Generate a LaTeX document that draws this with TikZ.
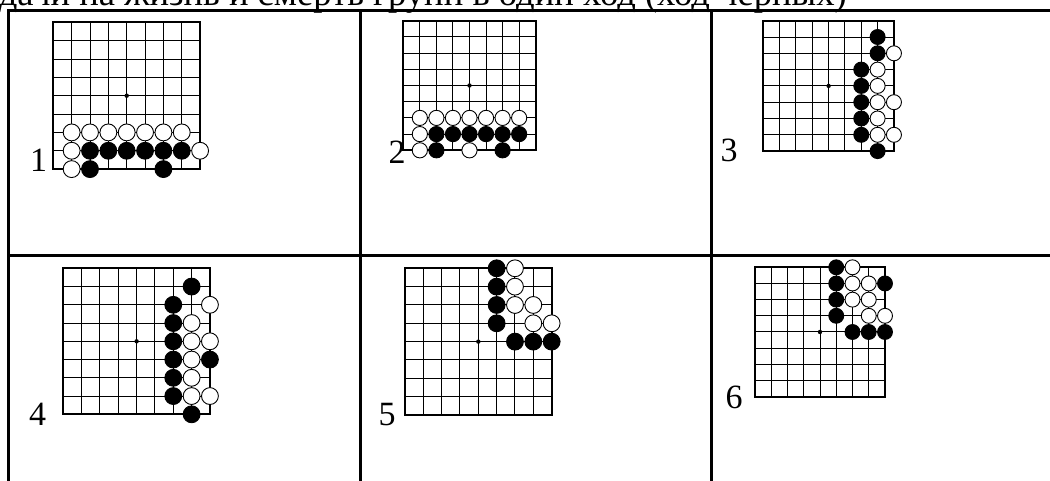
\documentclass[tikz,border=0pt]{standalone}
\usepackage{fontspec}
\setmainfont{Liberation Serif}
\tikzset{
  tableline/.style={line width=3pt},
  gridline/.style={line width=1pt},
  gridborder/.style={line width=2pt},
  bstone/.style={fill=black,draw=black,line width=0.9pt},
  wstone/.style={fill=white,draw=black,line width=0.9pt},
  numlabel/.style={inner sep=0pt,anchor=base,font=\fontsize{34}{40}\selectfont},
}
\newcommand\goboard[4]{% x0 y0 cellx celly
  \begin{scope}[shift={(#1,#2)},x=#3pt,y=-#4pt]
    \foreach \i in {1,...,7}{
      \draw[gridline] (\i,0) -- (\i,8);
      \draw[gridline] (0,\i) -- (8,\i);
    }
    \draw[gridborder] (0,0) rectangle (8,8);
    \fill (4,4) circle[radius=2.2pt];
  \end{scope}}
\newcommand\stonesB[5]{% x0 y0 cellx celly list
  \begin{scope}[shift={(#1,#2)},x=#3pt,y=-#4pt]
    \foreach \c/\r in {#5} \draw[bstone] (\c,\r) circle[radius=0.46*#3pt];
  \end{scope}}
\newcommand\stonesW[5]{%
  \begin{scope}[shift={(#1,#2)},x=#3pt,y=-#4pt]
    \foreach \c/\r in {#5} \draw[wstone] (\c,\r) circle[radius=0.46*#3pt];
  \end{scope}}
\begin{document}
\begin{tikzpicture}[x=1pt,y=-1pt]
\useasboundingbox (0,0) rectangle (1050,480);
\clip (0,0) rectangle (1050,480);
% title
\node[inner sep=0pt,anchor=base east,font=\fontsize{36.6}{42}\selectfont] (title) at (847,5) {Задачи на жизнь и смерть групп в один ход (ход черных)};
% table
\draw[tableline] (8,10) rectangle (1070,500);
\draw[tableline] (360,10) -- (360,500);
\draw[tableline] (711,10) -- (711,500);
\draw[tableline] (8,255) -- (1070,255);
% board 1
\goboard{53.3}{22.3}{18.35}{18.35}
\stonesW{53.3}{22.3}{18.35}{18.35}{1/6,2/6,3/6,4/6,5/6,6/6,7/6,1/7,8/7,1/8}
\stonesB{53.3}{22.3}{18.35}{18.35}{2/7,3/7,4/7,5/7,6/7,7/7,2/8,6/8}
\node[numlabel] (n1) at (38.5,171.7) {1};
% board 2
\goboard{403.3}{20.7}{16.55}{16.2}
\stonesW{403.3}{20.7}{16.55}{16.2}{1/6,2/6,3/6,4/6,5/6,6/6,7/6,1/7,1/8,4/8}
\stonesB{403.3}{20.7}{16.55}{16.2}{2/7,3/7,4/7,5/7,6/7,7/7,2/8,6/8}
\node[numlabel] (n2) at (397,163) {2};
% board 3
\goboard{763.3}{20.7}{16.33}{16.3}
\stonesB{763.3}{20.7}{16.33}{16.3}{7/1,7/2,6/3,6/4,6/5,6/6,6/7,7/8}
\stonesW{763.3}{20.7}{16.33}{16.3}{8/2,7/3,7/4,7/5,8/5,7/6,7/7,8/7}
\node[numlabel] (n3) at (729,161.7) {3};
% board 4
\goboard{63.3}{268.3}{18.33}{18.25}
\stonesB{63.3}{268.3}{18.33}{18.25}{7/1,6/2,6/3,6/4,6/5,8/5,6/6,6/7,7/8}
\stonesW{63.3}{268.3}{18.33}{18.25}{8/2,7/3,7/4,8/4,7/5,7/6,7/7,8/7}
\node[numlabel] (n4) at (37.5,425) {4};
% board 5
\goboard{405}{268.3}{18.33}{18.33}
\stonesB{405}{268.3}{18.33}{18.33}{5/0,5/1,5/2,5/3,6/4,7/4,8/4}
\stonesW{405}{268.3}{18.33}{18.33}{6/0,6/1,6/2,7/2,7/3,8/3}
\node[numlabel] (n5) at (387,425) {5};
% board 6
\goboard{755}{267.3}{16.25}{16.17}
\stonesB{755}{267.3}{16.25}{16.17}{5/0,5/1,8/1,5/2,5/3,6/4,7/4,8/4}
\stonesW{755}{267.3}{16.25}{16.17}{6/0,6/1,7/1,6/2,7/2,7/3,8/3}
\node[numlabel] (n6) at (734,408) {6};
\end{tikzpicture}
\end{document}
